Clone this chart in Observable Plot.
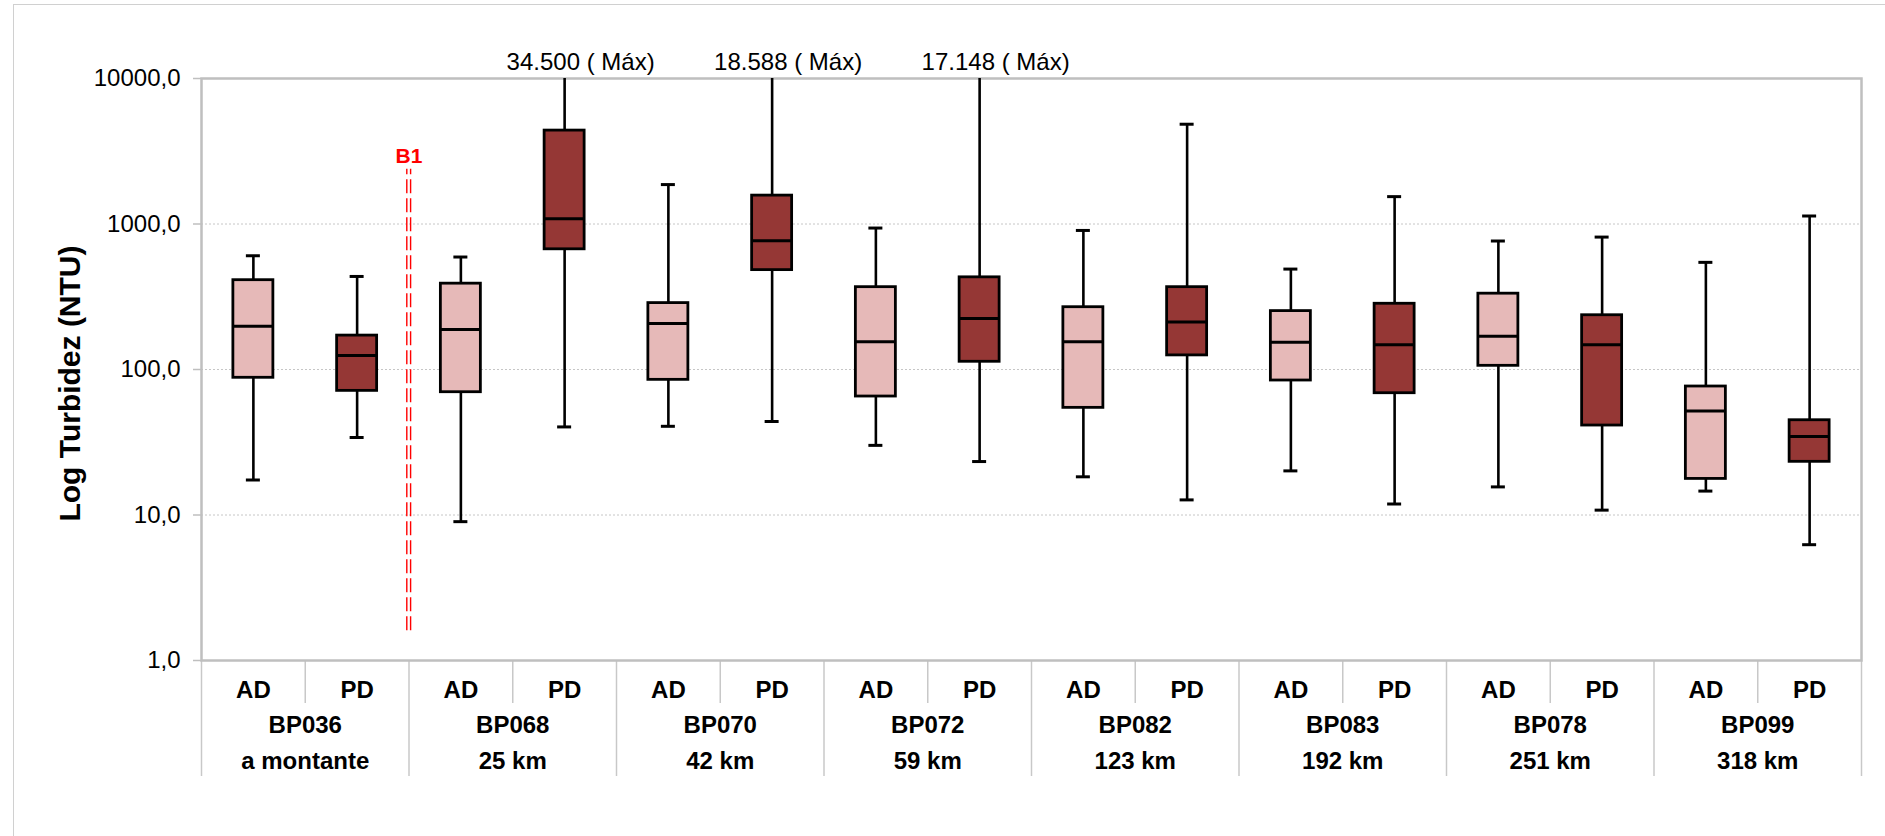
<!DOCTYPE html>
<html>
<head>
<meta charset="utf-8">
<script src="https://cdn.jsdelivr.net/npm/d3@7"></script>
<script src="https://cdn.jsdelivr.net/npm/@observablehq/plot@0.6"></script>
<style>
  html, body { margin: 0; padding: 0; background: #fff; }
  #wrap { position: relative; width: 1885px; height: 836px; overflow: hidden; background: #fff; }
  #wrap svg { position: absolute; left: 0; top: 0; }
  #outer { position: absolute; left: 13px; top: 4px; width: 1950px; height: 950px;
           border-top: 1.5px solid #d0d0d0; border-left: 1.5px solid #d0d0d0; pointer-events: none; }
</style>
</head>
<body>
<div id="wrap"></div>
<script>
// ---- categories ----
const stations  = ["BP036", "BP068", "BP070", "BP072", "BP082", "BP083", "BP078", "BP099"];
const distances = ["a montante", "25 km", "42 km", "59 km", "123 km", "192 km", "251 km", "318 km"];
const series    = ["AD", "PD"];

// ---- AD (light boxes) ----
const adMin    = [17.4, 9.0, 40.7, 30.1, 18.3, 20.1, 15.6, 14.6];
const adQ1     = [87.7, 69.8, 84.9, 65.2, 54.5, 84.0, 106, 17.7];
const adMedian = [198, 188, 207, 155, 155, 154, 169, 51.9];
const adQ3     = [411, 389, 286, 368, 268, 252, 332, 76.4];
const adMax    = [605, 593, 1866, 938, 903, 490, 764, 545];

// ---- PD (dark boxes) ----
const pdMin    = [34.1, 40.3, 43.9, 23.3, 12.7, 11.9, 10.8, 6.25];
const pdQ1     = [71.3, 670, 482, 113, 125, 68.7, 41.2, 23.2];
const pdMedian = [125, 1088, 768, 224, 212, 148, 148, 34.6];
const pdQ3     = [171, 4385, 1567, 430, 368, 283, 236, 44.8];
const pdMax    = [436, 34500, 18588, 17148, 4850, 1542, 813, 1135];

// ---- axis ticks ----
const yTicks = [1, 10, 100, 1000, 10000];
const yGrid  = [10, 100, 1000];

// ---- barrier annotation ----
const barrier = [{pos: 1.5, label: "B1", low: 1.6, high: 2380, labelAt: 2944}];

const yTop = 10000;
const ptBR = d3.formatLocale({decimal: ",", thousands: ".", grouping: [3], currency: ["", ""]});
const fmtThousands = ptBR.format(",d");
const fmtY = d => d.toFixed(1).replace(".", ",");

// build table
const rows = [];
stations.forEach((s, k) => {
  rows.push({i: 2 * k, station: s, series: series[0], min: adMin[k], q1: adQ1[k], median: adMedian[k], q3: adQ3[k], max: adMax[k]});
  rows.push({i: 2 * k + 1, station: s, series: series[1], min: pdMin[k], q1: pdQ1[k], median: pdMedian[k], q3: pdQ3[k], max: pdMax[k]});
});
const groups = stations.map((s, k) => ({k, station: s, distance: distances[k]}));
const innerSeps = stations.map((s, k) => 2 * k + 0.5);
const groupSeps = [-0.5, ...stations.map((s, k) => 2 * k + 1.5)];

const slotPx = (1885 - 201 - 24) / 16;
const halfBox = 20 / slotPx;
const halfCap = 7 / slotPx;
const font = "'Liberation Sans', Arial, Helvetica, sans-serif";

const chart = Plot.plot({
  width: 1885,
  height: 836,
  marginLeft: 201,
  marginRight: 24,
  marginTop: 78,
  marginBottom: 176,
  x: {domain: [-0.5, 15.5], label: null},
  y: {type: "log", domain: [1, yTop], clamp: true, label: null},
  style: {fontFamily: font, color: "black", background: "transparent", overflow: "visible"},
  marks: [
    Plot.gridY(yGrid, {stroke: "#c6c6c6", strokeOpacity: 1, strokeWidth: 1, strokeDasharray: "2,2"}),
    Plot.axisY({ticks: yTicks, tickFormat: fmtY, tickSize: 8, tickPadding: 13, fontSize: 24,
                stroke: "#bfbfbf", strokeWidth: 1.5, fill: "black", label: null}),
    Plot.axisX({ticks: innerSeps, tickSize: 43, tickFormat: () => "", stroke: "#c8c8c8", strokeWidth: 1.5, label: null}),
    Plot.axisX({ticks: groupSeps, tickSize: 116, tickFormat: () => "", stroke: "#c8c8c8", strokeWidth: 1.5, label: null}),
    Plot.frame({stroke: "#bfbfbf", strokeWidth: 2.5}),

    // barrier B1
    Plot.ruleX(barrier, {x: "pos", y1: "low", y2: "high", stroke: "#ff0000", strokeWidth: 1.4, strokeDasharray: "14,5", dx: -2.2}),
    Plot.ruleX(barrier, {x: "pos", y1: "low", y2: "high", stroke: "#ff0000", strokeWidth: 1.4, strokeDasharray: "14,5", dx: 1.6}),
    Plot.text(barrier, {x: "pos", y: "labelAt", text: "label", fill: "#ff0000", fontWeight: "bold", fontSize: 21, dx: 0}),

    // whiskers
    Plot.ruleX(rows, {x: "i", y1: "min", y2: "max", stroke: "black", strokeWidth: 2.6}),
    Plot.ruleY(rows.filter(d => d.max <= yTop), {y: "max", x1: d => d.i - halfCap, x2: d => d.i + halfCap, stroke: "black", strokeWidth: 3}),
    Plot.ruleY(rows, {y: "min", x1: d => d.i - halfCap, x2: d => d.i + halfCap, stroke: "black", strokeWidth: 3}),

    // boxes
    Plot.rect(rows.filter(d => d.series === "AD"), {x1: d => d.i - halfBox, x2: d => d.i + halfBox, y1: "q1", y2: "q3",
              fill: "#E6B9B8", stroke: "black", strokeWidth: 2.8}),
    Plot.rect(rows.filter(d => d.series === "PD"), {x1: d => d.i - halfBox, x2: d => d.i + halfBox, y1: "q1", y2: "q3",
              fill: "#953735", stroke: "black", strokeWidth: 2.8}),
    Plot.ruleY(rows, {y: "median", x1: d => d.i - halfBox, x2: d => d.i + halfBox, stroke: "black", strokeWidth: 3}),

    // max labels for clipped whiskers
    Plot.text(rows.filter(d => d.max > yTop), {x: "i", text: d => fmtThousands(d.max) + " ( Máx)", frameAnchor: "top",
              lineAnchor: "bottom", dy: -8.5, dx: 16, fontSize: 24, fill: "black"}),

    // category labels
    Plot.text(rows, {x: "i", text: "series", frameAnchor: "bottom", lineAnchor: "bottom", dy: 37,
              fontSize: 24, fontWeight: "bold", fill: "black"}),
    Plot.text(groups, {x: d => 2 * d.k + 0.5, text: "station", frameAnchor: "bottom", lineAnchor: "bottom", dy: 72.5,
              fontSize: 24, fontWeight: "bold", fill: "black"}),
    Plot.text(groups, {x: d => 2 * d.k + 0.5, text: "distance", frameAnchor: "bottom", lineAnchor: "bottom", dy: 108.5,
              fontSize: 24, fontWeight: "bold", fill: "black"}),

    // y title
    Plot.text(["Log Turbidez (NTU)"], {text: d => d, frameAnchor: "left", textAnchor: "middle", lineAnchor: "middle",
              rotate: -90, dx: -131, dy: 14, fontSize: 30, fontWeight: "bold", fill: "black"})
  ]
});

const wrap = document.getElementById("wrap");
wrap.appendChild(chart);
const outer = document.createElement("div");
outer.id = "outer";
wrap.appendChild(outer);
</script>
</body>
</html>
